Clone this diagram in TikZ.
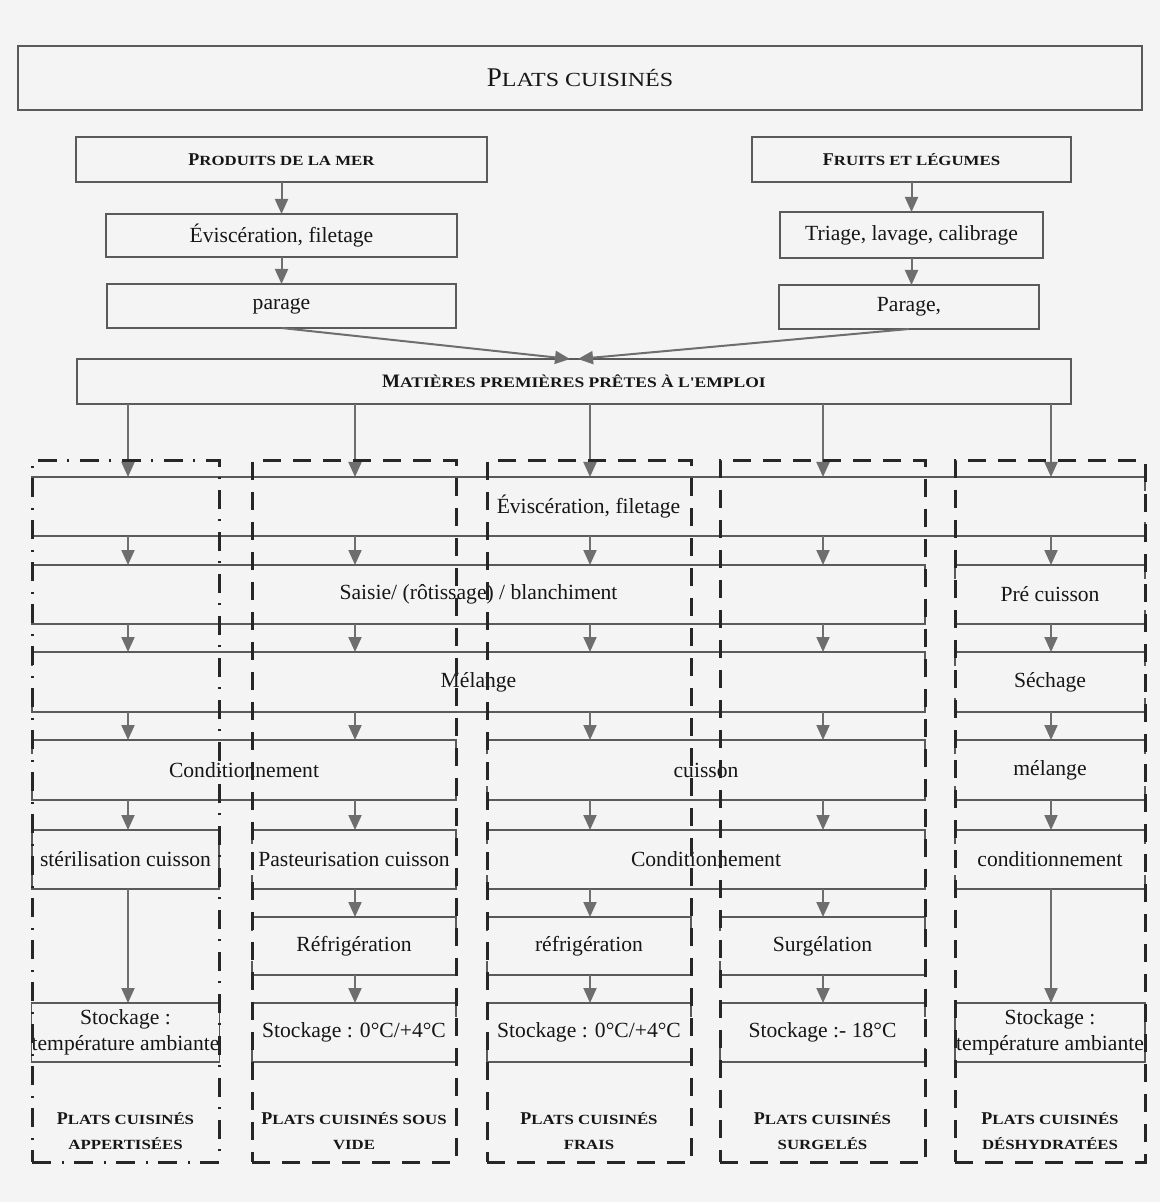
\documentclass[tikz,border=0pt]{standalone}
\usepackage{fontspec}
\setmainfont{Liberation Serif}
\newfontfamily\scfam[FakeStretch=1.2]{Liberation Serif}
\usetikzlibrary{arrows.meta}

\definecolor{ink}{HTML}{161616}
\definecolor{frame}{HTML}{262626}
\definecolor{rule}{HTML}{5A5A5A}
\definecolor{flow}{HTML}{6E6E6E}
\definecolor{paper}{HTML}{F4F4F4}

% capital + small-capital lettering
\newcommand\fsc[4]{{\fontsize{#1}{12.5pt}\selectfont #2}{\scfam\fontsize{#3}{12.5pt}\selectfont #4}}
\newcommand\sct[1]{{\scfam\fontsize{7pt}{12.5pt}\selectfont #1}}

% box node given by its corners (x1,y1)-(x2,y2)
\newcommand\pbox[7][]{\node[pbox,#1,minimum width={(#5-#3)*0.5pt},minimum height={(#6-#4)*0.5pt}] (#2) at ({(#3+#5)/2},{(#4+#6)/2}) {#7};}

% top and bottom rules of a stage box, with short end ticks
\newcommand\stagelines[1]{%
  \draw[ruleline] ([yshift=-7pt]#1.north west) -- (#1.north west) -- (#1.north east) -- ([yshift=-7pt]#1.north east);
  \draw[ruleline] ([yshift=7pt]#1.south west) -- (#1.south west) -- (#1.south east) -- ([yshift=7pt]#1.south east);}

\tikzset{
  pbox/.style={inner sep=0pt, outer sep=0pt, align=center, text=ink,
    font=\fontsize{10.8pt}{13pt}\selectfont},
  solidbox/.style={draw=rule, line width=0.8pt},
  titlebox/.style={draw=rule, line width=1pt},
  ruleline/.style={draw=rule, line width=0.8pt},
  arr/.style={draw=flow, line width=1pt, -{Triangle[length=7.5pt,width=6.5pt]}},
  colA/.style={draw=frame, line width=1.5pt, dash pattern=on 9.5pt off 5.5pt on 1pt off 5pt},
  colB/.style={draw=frame, line width=1.5pt, dash pattern=on 9pt off 6pt},
  lbl/.style={align=center, text=ink, inner sep=0pt,
    font=\fontsize{9pt}{12.5pt}\selectfont\bfseries},
}

\begin{document}
\begin{tikzpicture}[x=0.5pt,y=-0.5pt]
\fill[paper] (0,0) rectangle (1160,1202);
\useasboundingbox (0,0) rectangle (1160,1202);

% heading and raw materials
\pbox[titlebox]{title}{18}{46}{1142}{110}{\fsc{13.5pt}{P}{10pt}{LATS CUISINÉS}}
\pbox[solidbox,font=\bfseries]{mer}{76}{137}{487}{182}{\fsc{9pt}{P}{7pt}{RODUITS DE LA MER}}
\pbox[solidbox,font=\bfseries]{fruits}{752}{137}{1071}{182}{\fsc{9pt}{F}{7pt}{RUITS ET LÉGUMES}}
\pbox[solidbox]{evis}{106}{214}{457}{257}{Éviscération, filetage}
\pbox[solidbox]{triage}{780}{212}{1043}{258}{Triage, lavage, calibrage}
\pbox[solidbox]{parage}{107}{284}{456}{328}{parage}
\pbox[solidbox]{parage2}{779}{285}{1039}{329}{Parage,}
\pbox[solidbox,font=\bfseries]{mat}{77}{359}{1071}{404}{\fsc{9.5pt}{M}{7.3pt}{ATIÈRES PREMIÈRES PRÊTES À L'EMPLOI}}

\draw[arr] (mer.south) -- (evis.north);
\draw[arr] (evis.south) -- (parage.north);
\draw[arr] (fruits.south) -- (triage.north);
\draw[arr] (triage.south) -- (triage.south |- parage2.north);
\draw[arr] (parage.south) -- ([xshift=-2pt]mat.north);
\draw[arr] (parage2.south) -- ([xshift=2pt]mat.north);

% processing stages
\pbox{evA}{32}{477}{1145}{536}{Éviscération, filetage}
\pbox{saisie}{32}{565}{925}{624}{Saisie/ (rôtissage) / blanchiment}
\pbox{precuisson}{955}{565}{1145}{624}{Pré cuisson}
\pbox{melange}{32}{652}{925}{712}{Mélange}
\pbox{sechage}{955}{652}{1145}{712}{Séchage}
\pbox{condAB}{32}{740}{456}{800}{Conditionnement}
\pbox{cuisson}{487}{740}{925}{800}{cuisson}
\pbox{melangeE}{955}{740}{1145}{800}{mélange}
\pbox[solidbox]{steril}{32}{830}{219}{889}{stérilisation cuisson}
\pbox{pasteur}{252}{830}{456}{889}{Pasteurisation cuisson}
\pbox{condCD}{487}{830}{925}{889}{Conditionnement}
\pbox{condE}{955}{830}{1145}{889}{conditionnement}
\pbox{refrigB}{252}{917}{456}{975}{Réfrigération}
\pbox{refrigC}{487}{917}{691}{975}{réfrigération}
\pbox{surgel}{720}{917}{925}{975}{Surgélation}
\pbox[solidbox]{stockA}{32}{1003}{219}{1062}{Stockage :\\température ambiante}
\pbox{stockB}{252}{1003}{456}{1062}{Stockage : 0°C/+4°C}
\pbox{stockC}{487}{1003}{691}{1062}{Stockage : 0°C/+4°C}
\pbox{stockD}{720}{1003}{925}{1062}{Stockage :- 18°C}
\pbox[solidbox]{stockE}{955}{1003}{1145}{1062}{Stockage :\\température ambiante}

\foreach \n in {evA,saisie,precuisson,melange,sechage,condAB,cuisson,melangeE,
  pasteur,condCD,condE,refrigB,refrigC,surgel,stockB,stockC,stockD}{\stagelines{\n}}

% flow lines, one per product family
\coordinate (c1) at (128,0);
\coordinate (c2) at (355,0);
\coordinate (c3) at (590,0);
\coordinate (c4) at (823,0);
\coordinate (c5) at (1051,0);
\foreach \c/\a/\b in {
  c1/mat/evA, c1/evA/saisie, c1/saisie/melange, c1/melange/condAB, c1/condAB/steril, c1/steril/stockA,
  c2/mat/evA, c2/evA/saisie, c2/saisie/melange, c2/melange/condAB, c2/condAB/pasteur, c2/pasteur/refrigB, c2/refrigB/stockB,
  c3/mat/evA, c3/evA/saisie, c3/saisie/melange, c3/melange/cuisson, c3/cuisson/condCD, c3/condCD/refrigC, c3/refrigC/stockC,
  c4/mat/evA, c4/evA/saisie, c4/saisie/melange, c4/melange/cuisson, c4/cuisson/condCD, c4/condCD/surgel, c4/surgel/stockD,
  c5/mat/evA, c5/evA/precuisson, c5/precuisson/sechage, c5/sechage/melangeE, c5/melangeE/condE, c5/condE/stockE}
  {\draw[arr] (\a.south -| \c) -- (\b.north -| \c);}

% product families
\node[lbl] (nA) at (125.5,1131) {\fsc{9pt}{P}{7pt}{LATS CUISINÉS}\\\sct{APPERTISÉES}};
\node[lbl] (nB) at (354,1131) {\fsc{9pt}{P}{7pt}{LATS CUISINÉS SOUS}\\\sct{VIDE}};
\node[lbl] (nC) at (589,1131) {\fsc{9pt}{P}{7pt}{LATS CUISINÉS}\\\sct{FRAIS}};
\node[lbl] (nD) at (822.5,1131) {\fsc{9pt}{P}{7pt}{LATS CUISINÉS}\\\sct{SURGELÉS}};
\node[lbl] (nE) at (1050,1131) {\fsc{9pt}{P}{7pt}{LATS CUISINÉS}\\\sct{DÉSHYDRATÉES}};

% family frames
\pbox[colA]{colAp}{32}{461}{219}{1162}{}
\pbox[colB]{colSv}{252}{461}{456}{1162}{}
\pbox[colB]{colFr}{487}{461}{691}{1162}{}
\pbox[colB]{colSu}{720}{461}{925}{1162}{}
\pbox[colB]{colDe}{955}{461}{1145}{1162}{}
\end{tikzpicture}
\end{document}
